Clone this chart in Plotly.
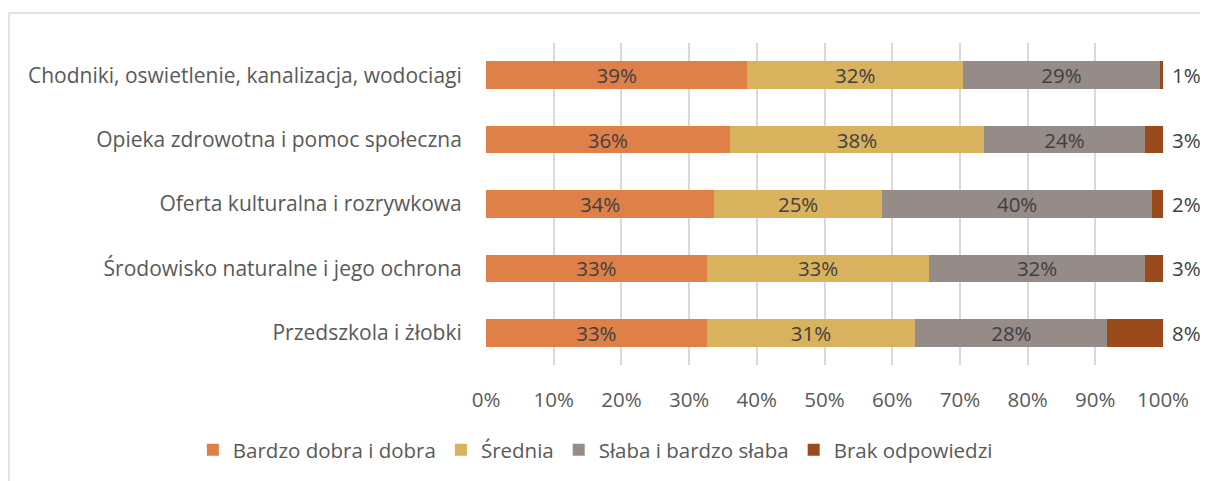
import plotly.graph_objects as go

categories = [
    "Chodniki, oswietlenie, kanalizacja, wodociagi",
    "Opieka zdrowotna i pomoc społeczna",
    "Oferta kulturalna i rozrywkowa",
    "Środowisko naturalne i jego ochrona",
    "Przedszkola i żłobki",
]
series_names = ["Bardzo dobra i dobra", "Średnia", "Słaba i bardzo słaba", "Brak odpowiedzi"]
bardzo_dobra = [38.6, 36.0, 33.7, 32.6, 32.6]
srednia = [31.9, 37.6, 24.8, 32.9, 30.8]
slaba = [29.0, 23.7, 39.9, 31.8, 28.4]
brak = [0.5, 2.7, 1.6, 2.7, 8.2]
colors = ["#DF8049", "#D8B25C", "#958B87", "#9A4A1B"]
x_ticks = [0, 10, 20, 30, 40, 50, 60, 70, 80, 90, 100]

FONT = "Open Sans"
FS = 20.5
fig = go.Figure()
all_series = [bardzo_dobra, srednia, slaba, brak]
for i, (name, vals) in enumerate(zip(series_names, all_series)):
    last = i == len(all_series) - 1
    fig.add_trace(go.Bar(
        y=categories, x=vals, name=name, orientation="h",
        marker=dict(color=colors[i], line=dict(width=0)),
        texttemplate="" if last else "%{x:.0f}%",
        textposition="none" if last else "inside",
        insidetextanchor="middle",
        textfont=dict(family=FONT, size=FS, color="#404040"),
        hoverinfo="skip",
    ))

# labels of the last series, placed right of each stacked bar
totals = [a + b + c + d for a, b, c, d in zip(bardzo_dobra, srednia, slaba, brak)]
for cat, tot, v in zip(categories, totals, brak):
    fig.add_annotation(
        x=min(tot, 99.99), y=cat, xref="x", yref="y", text=f"{max(1, round(v))}%",
        showarrow=False, xanchor="left", xshift=7,
        font=dict(family=FONT, size=FS, color="#404040"),
    )

fig.update_layout(
    barmode="stack",
    bargap=0.57,
    width=1200, height=473,
    margin=dict(l=478, r=45, t=35, b=116, autoexpand=False),
    paper_bgcolor="white", plot_bgcolor="white",
    font=dict(family=FONT, size=FS, color="#595959"),
    uniformtext=dict(minsize=FS, mode="show"),
    xaxis=dict(
        range=[0, 100], tickvals=x_ticks, ticktext=[f"{v}%" for v in x_ticks],
        showgrid=True, gridcolor="#D9D9D9", gridwidth=1.5, zeroline=False,
        ticks="outside", ticklen=16, tickcolor="rgba(0,0,0,0)",
        tickfont=dict(family=FONT, size=FS, color="#595959"),
    ),
    yaxis=dict(
        categoryorder="array", categoryarray=categories[::-1],
        autorange=False, range=[-0.5, 4.5],
        ticks="outside", ticklen=19, tickcolor="rgba(0,0,0,0)",
        tickfont=dict(family=FONT, size=21, color="#595959"),
        showline=False,
    ),
    legend=dict(
        orientation="h", xref="paper", yref="paper",
        x=-0.433, xanchor="left", y=-0.264, yanchor="middle",
        font=dict(family=FONT, size=FS, color="#595959"),
        traceorder="normal",
    ),
    showlegend=True,
    shapes=[dict(
        type="rect", xref="paper", yref="paper",
        x0=(1 - 478) / 677, x1=1.2, y0=-0.6, y1=1 + (35 - 5) / 322,
        line=dict(color="#D9D9D9", width=1.5), fillcolor="rgba(0,0,0,0)",
        layer="below",
    )],
)

fig.write_html("out.html")
